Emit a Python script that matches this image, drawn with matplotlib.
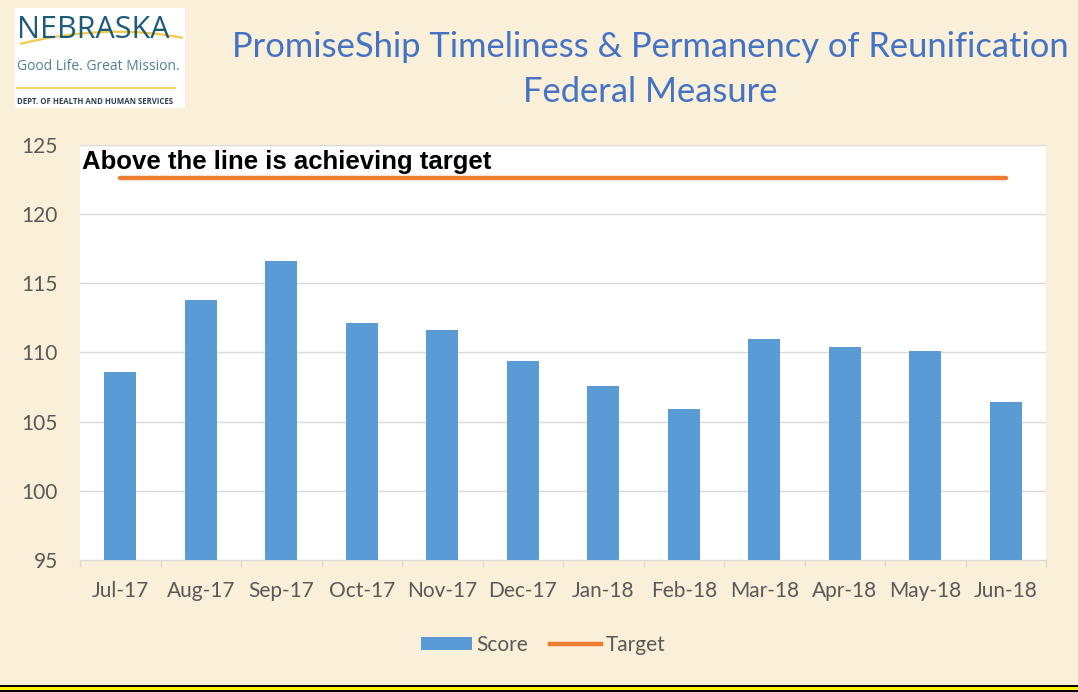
import numpy as np
import matplotlib
matplotlib.use('Agg')
from matplotlib import pyplot as plt
from matplotlib.patches import Rectangle, PathPatch
from matplotlib.path import Path
from matplotlib.lines import Line2D
from matplotlib.patches import Patch

months = ['Jul-17', 'Aug-17', 'Sep-17', 'Oct-17', 'Nov-17', 'Dec-17',
          'Jan-18', 'Feb-18', 'Mar-18', 'Apr-18', 'May-18', 'Jun-18']
score = [108.6, 113.8, 116.6, 112.1, 111.6, 109.4,
         107.6, 105.9, 111.0, 110.4, 110.1, 106.4]
target = [122.6] * len(months)
y_ticks = [95, 100, 105, 110, 115, 120, 125]

BAR_BLUE = '#5B9BD5'
TARGET_ORANGE = '#ED7D31'
TITLE_BLUE = '#4472C4'
TICK_GREY = '#595959'
PAPER = '#FAEFD8'
FONT = 'Lato'

fig = plt.figure(figsize=(10.78, 6.92), dpi=100)
fig.patch.set_facecolor(PAPER)

# plot area
ax = fig.add_axes([80 / 1078, 1 - 560 / 692, 966 / 1078, 415 / 692])
ax.set_facecolor('white')
x = np.arange(len(months))
ax.bar(x, score, width=0.4, color=BAR_BLUE, zorder=3)
ax.plot(x, target, color=TARGET_ORANGE, linewidth=3.2, solid_capstyle='round', zorder=4)

ax.set_xlim(-0.5, len(months) - 0.5)
ax.set_ylim(95, 125)
ax.set_yticks(y_ticks)
ax.set_yticklabels([str(v) for v in y_ticks], fontsize=15, color=TICK_GREY, family=FONT)
ax.set_xticks(x)
ax.set_xticklabels(months, fontsize=15, color=TICK_GREY, family=FONT)
ax.tick_params(axis='x', length=0, pad=15)
ax.tick_params(axis='y', length=0, pad=16)
# category boundary ticks
ax.set_xticks(np.arange(len(months) + 1) - 0.5, minor=True)
ax.tick_params(axis='x', which='minor', length=5, color='#D9D9D9', width=1)
ax.grid(axis='y', color='#D9D9D9', linewidth=1, zorder=0)
for s in ['top', 'right', 'left']:
    ax.spines[s].set_visible(False)
ax.spines['bottom'].set_color('#D9D9D9')

ax.text(0.002, 0.959, 'Above the line is achieving target', transform=ax.transAxes,
        fontsize=18.5, fontweight='bold', family='Liberation Sans', color='black',
        va='center', ha='left', zorder=5)

# legend
handles = [Patch(facecolor=BAR_BLUE, edgecolor='none'),
           Line2D([0], [0], color=TARGET_ORANGE, linewidth=3.2)]
leg = fig.legend(handles, ['Score', 'Target'], loc='center', bbox_to_anchor=(543 / 1078, 1 - 645 / 692),
                 ncol=2, frameon=False, prop={'family': FONT, 'size': 15},
                 handlelength=2.45, handleheight=0.6, columnspacing=1.1, handletextpad=0.2)
for t in leg.get_texts():
    t.set_color(TICK_GREY)

# title
fig.text(650 / 1078, 1 - 47 / 692, 'PromiseShip Timeliness & Permanency of Reunification',
         ha='center', va='center', fontsize=24.8, color=TITLE_BLUE, family=FONT)
fig.text(650 / 1078, 1 - 92 / 692, 'Federal Measure',
         ha='center', va='center', fontsize=24.8, color=TITLE_BLUE, family=FONT)

# logo
lx = fig.add_axes([15 / 1078, 1 - 108 / 692, 170 / 1078, 100 / 692])
lx.set_xlim(0, 170)
lx.set_ylim(100, 0)
lx.set_facecolor('white')
lx.set_xticks([])
lx.set_yticks([])
for s in lx.spines.values():
    s.set_visible(False)
swoosh = Path([(5, 36), (60, 22), (120, 20), (168, 30)],
              [Path.MOVETO, Path.CURVE4, Path.CURVE4, Path.CURVE4])
lx.add_patch(PathPatch(swoosh, facecolor='none', edgecolor='#F2C94C', linewidth=1.6))
lx.text(2, 22, 'NEBRASKA', fontsize=22, color='#1E5B78', family='Open Sans',
        va='center', ha='left')
lx.text(2, 58, 'Good Life. Great Mission.', fontsize=10, color='#4F8193', family='Open Sans',
        va='center', ha='left')
lx.plot([2, 160], [80, 80], color='#F2C94C', linewidth=1.2)
lx.text(2, 93, 'DEPT. OF HEALTH AND HUMAN SERVICES', fontsize=5.6, color='#2A3F4F',
        family='Open Sans', fontweight='bold', va='center', ha='left')

# slide border at the bottom
fig.patches.append(Rectangle((0, 0), 1, 7 / 692, transform=fig.transFigure,
                             facecolor='black', edgecolor='none'))
fig.patches.append(Rectangle((0, 2 / 692), 1, 3 / 692, transform=fig.transFigure,
                             facecolor='#FFF200', edgecolor='none'))

fig.savefig('out.png', dpi=100, facecolor=fig.get_facecolor())
